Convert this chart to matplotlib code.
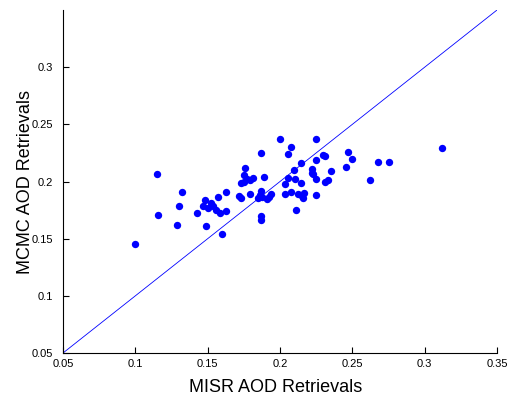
import numpy as np
import matplotlib
matplotlib.use("Agg")
import matplotlib.pyplot as plt

# MISR vs MCMC AOD retrievals
misr = [0.0998, 0.1150, 0.1157, 0.1288, 0.1302, 0.1323, 0.1426, 0.1468, 0.1480, 0.1491,
        0.1503, 0.1520, 0.1538, 0.1560, 0.1572, 0.1583, 0.1625, 0.1627, 0.1600, 0.1714,
        0.1728, 0.1730, 0.1750, 0.1758, 0.1770, 0.1750, 0.1795, 0.1813, 0.1790, 0.1867,
        0.1890, 0.1867, 0.1864, 0.1848, 0.1878, 0.1910, 0.1936, 0.1927, 0.1867, 0.1867,
        0.2000, 0.2247, 0.2076, 0.2055, 0.2300, 0.2310, 0.2145, 0.2249, 0.2350, 0.2097,
        0.2222, 0.2220, 0.2228, 0.2055, 0.2106, 0.2034, 0.2145, 0.2249, 0.2309, 0.2335,
        0.2034, 0.2076, 0.2127, 0.2150, 0.2166, 0.2159, 0.2249, 0.2110, 0.2456, 0.2470,
        0.2500, 0.2620, 0.2680, 0.2750, 0.3120]
mcmc = [0.1450, 0.2062, 0.1704, 0.1616, 0.1782, 0.1905, 0.1721, 0.1785, 0.1837, 0.1610,
        0.1770, 0.1810, 0.1785, 0.1750, 0.1866, 0.1721, 0.1741, 0.1905, 0.1540, 0.1875,
        0.1853, 0.1990, 0.2056, 0.2117, 0.2020, 0.1995, 0.2012, 0.2027, 0.1893, 0.2248,
        0.2038, 0.1916, 0.1880, 0.1853, 0.1861, 0.1846, 0.1890, 0.1861, 0.1695, 0.1663,
        0.2370, 0.2370, 0.2300, 0.2237, 0.2230, 0.2220, 0.2158, 0.2184, 0.2088, 0.2097,
        0.2108, 0.2076, 0.2065, 0.2027, 0.2018, 0.1977, 0.1986, 0.2021, 0.2000, 0.2012,
        0.1890, 0.1905, 0.1887, 0.1872, 0.1896, 0.1852, 0.1881, 0.1750, 0.2130, 0.2260,
        0.2200, 0.2010, 0.2167, 0.2167, 0.2290]

one_to_one = [0.05, 0.35]
xticks = [0.05, 0.1, 0.15, 0.2, 0.25, 0.3, 0.35]
yticks = [0.05, 0.1, 0.15, 0.2, 0.25, 0.3]

plt.rcParams['font.family'] = ['Liberation Sans', 'DejaVu Sans']

fig = plt.figure(figsize=(5.23, 3.96), dpi=100)
ax = fig.add_axes([0.1205, 0.1086, 0.8298, 0.8661])

ax.plot(one_to_one, one_to_one, color='b', linewidth=0.6)
ax.plot(misr, mcmc, 'o', color='b', markersize=5.3, markeredgewidth=0)

ax.set_xlim(0.05, 0.35)
ax.set_ylim(0.05, 0.35)
ax.set_xticks(xticks)
ax.set_xticklabels([f"{t:g}" for t in xticks])
ax.set_yticks(yticks)
ax.set_yticklabels([f"{t:g}" for t in yticks])
ax.tick_params(direction='in', length=4, width=0.8, labelsize=8)
ax.tick_params(axis='x', pad=4.2)
ax.tick_params(axis='y', pad=7)

ax.spines['top'].set_visible(False)
ax.spines['right'].set_visible(False)
for s in ('left', 'bottom'):
    ax.spines[s].set_linewidth(0.8)

ax.set_xlabel('MISR AOD Retrievals', fontsize=13)
ax.set_ylabel('MCMC AOD Retrievals', fontsize=13)
ax.xaxis.set_label_coords(0.491, -0.077)
ax.yaxis.set_label_coords(-0.068, 0.5)

fig.savefig('out.png', dpi=100)
